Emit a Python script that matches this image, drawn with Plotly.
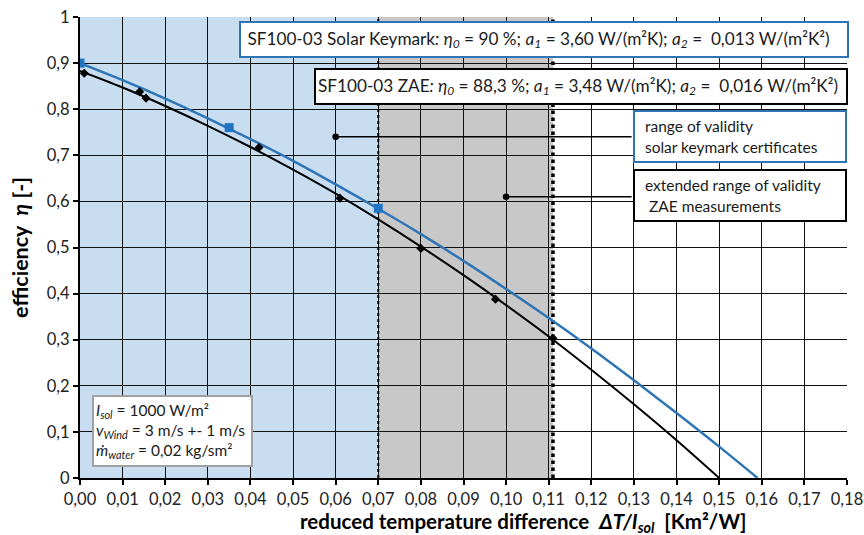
import plotly.graph_objects as go

# Axis ticks (decimal comma labels)
x_ticks = [0.00, 0.01, 0.02, 0.03, 0.04, 0.05, 0.06, 0.07, 0.08, 0.09,
           0.10, 0.11, 0.12, 0.13, 0.14, 0.15, 0.16, 0.17, 0.18]
x_tick_labels = ["0,00", "0,01", "0,02", "0,03", "0,04", "0,05", "0,06", "0,07", "0,08", "0,09",
                 "0,10", "0,11", "0,12", "0,13", "0,14", "0,15", "0,16", "0,17", "0,18"]
y_ticks = [0.0, 0.1, 0.2, 0.3, 0.4, 0.5, 0.6, 0.7, 0.8, 0.9, 1.0]
y_tick_labels = ["0", "0,1", "0,2", "0,3", "0,4", "0,5", "0,6", "0,7", "0,8", "0,9", "1"]

# Efficiency curve, Solar Keymark certificate
keymark_x = [0.00, 0.01, 0.02, 0.03, 0.04, 0.05, 0.06, 0.07, 0.08, 0.09,
             0.10, 0.11, 0.12, 0.13, 0.14, 0.15, 0.159]
keymark_eta = [0.900, 0.863, 0.823, 0.780, 0.735, 0.688, 0.637, 0.584, 0.529, 0.471,
               0.410, 0.347, 0.281, 0.212, 0.141, 0.068, 0.000]

# Efficiency curve, ZAE measurement fit
zae_x = [0.00, 0.01, 0.02, 0.03, 0.04, 0.05, 0.06, 0.07, 0.08, 0.09,
         0.10, 0.11, 0.12, 0.13, 0.14, 0.15]
zae_eta = [0.883, 0.847, 0.807, 0.764, 0.718, 0.669, 0.617, 0.561, 0.502, 0.440,
           0.375, 0.307, 0.235, 0.160, 0.082, 0.000]

# Certificate points and measured points
keymark_pts_x = [0.000, 0.035, 0.070]
keymark_pts_eta = [0.900, 0.760, 0.585]
meas_x = [0.001, 0.014, 0.0155, 0.042, 0.061, 0.080, 0.0975, 0.111]
meas_eta = [0.878, 0.838, 0.824, 0.717, 0.607, 0.498, 0.388, 0.303]

# Validity limits
limit_keymark = 0.07
limit_zae = 0.111

BLUE = "#2e75b6"
FONT = "Lato"
NB = "\u00a0"

fig = go.Figure()

fig.add_trace(go.Scatter(x=zae_x, y=zae_eta, mode="lines", line=dict(color="black", width=2, shape="spline"),
                         hoverinfo="skip", showlegend=False))
fig.add_trace(go.Scatter(x=keymark_x, y=keymark_eta, mode="lines", line=dict(color=BLUE, width=2.5, shape="spline"),
                         hoverinfo="skip", showlegend=False))
fig.add_trace(go.Scatter(x=meas_x, y=meas_eta, mode="markers",
                         marker=dict(symbol="diamond", size=7, color="black"), showlegend=False))
fig.add_trace(go.Scatter(x=keymark_pts_x, y=keymark_pts_eta, mode="markers",
                         marker=dict(symbol="square", size=9, color="#1f74c4"), showlegend=False))

# Shaded validity ranges
fig.add_shape(type="rect", xref="x", yref="y", x0=0, x1=limit_keymark, y0=0, y1=1,
              fillcolor="#c9ddf0", line_width=0, layer="below")
fig.add_shape(type="rect", xref="x", yref="y", x0=limit_keymark, x1=limit_zae, y0=0, y1=1,
              fillcolor="#c8c8c8", line_width=0, layer="below")
fig.add_shape(type="line", xref="x", yref="y", x0=limit_keymark, x1=limit_keymark, y0=0, y1=1,
              line=dict(color="black", width=2, dash="dot"), layer="between")
fig.add_shape(type="line", xref="x", yref="y", x0=limit_zae, x1=limit_zae, y0=0, y1=1,
              line=dict(color="black", width=3.5, dash="dot"), layer="between")


def box(text, x, y, width, height, border, size):
    fig.add_annotation(xref="x", yref="y", x=x, y=y, xanchor="left", yanchor="top",
                       text=text, showarrow=False, align="left",
                       font=dict(family=FONT, size=size, color="#1a1a1a"),
                       width=width, height=height, bgcolor="white",
                       bordercolor=border, borderwidth=2, borderpad=2)


box(NB + "SF100-03 Solar Keymark<i>: η<sub>0</sub></i> = 90 %; <i>a<sub>1</sub></i> = 3,60 W/(m²K); "
    "<i>a<sub>2</sub></i> =" + NB + " 0,013 W/(m²K²)", 0.0372, 0.991, 602, 29, BLUE, 17.2)
box("SF100-03 ZAE<i>: η<sub>0</sub></i> = 88,3 %; <i>a<sub>1</sub></i> = 3,48 W/(m²K); "
    "<i>a<sub>2</sub></i> =" + NB + " 0,016 W/(m²K²)", 0.0549, 0.889, 526, 29, "black", 17.2)
box(NB * 2 + "range of validity<br>" + NB * 2 + "solar keymark certificates",
    0.1298, 0.798, 206, 45, BLUE, 15.5)
box(NB * 2 + "extended range of validity<br>" + NB * 3 + "ZAE measurements",
    0.1298, 0.670, 206, 45, "black", 15.5)
box("<i>I<sub>sol</sub></i> = 1000 W/m²<br><i>v<sub>Wind</sub></i> = 3 m/s +- 1 m/s<br>"
    "<i>ṁ<sub>water</sub></i> = 0,02 kg/sm²", 0.00275, 0.180, 153, 64, "#a0a0a0", 15.5)

# Callout lines from the boxes to the shaded ranges
for (px, py) in [(0.06, 0.74), (0.10, 0.61)]:
    fig.add_annotation(xref="x", yref="y", x=px, y=py, axref="x", ayref="y", ax=0.1298, ay=py,
                       text="", showarrow=True, arrowhead=6, arrowsize=1.1, arrowwidth=1.5,
                       arrowcolor="black", startstandoff=0)

# Axis titles
fig.add_annotation(xref="paper", yref="paper", x=0.578, y=-0.0955, xanchor="center", yanchor="middle",
                   text="<b>reduced temperature difference" + NB * 2 + "<i>ΔT/I<sub>sol</sub></i>"
                        + NB * 2 + "[Km²/W]</b>",
                   showarrow=False, font=dict(family=FONT, size=20.5, color="black"))

fig.update_layout(
    width=864, height=535,
    margin=dict(l=80, r=17, t=17, b=57),
    plot_bgcolor="white", paper_bgcolor="white",
    font=dict(family=FONT, size=16.5, color="#222222"),
    xaxis=dict(range=[0, 0.18], tickvals=x_ticks, ticktext=x_tick_labels, automargin=False,
               showgrid=True, gridcolor="#111111", gridwidth=1.2, zeroline=False,
               showline=True, linecolor="black", linewidth=2,
               ticks="outside", ticklen=5, tickwidth=1.5, tickcolor="black",
               tickfont=dict(family=FONT, size=16.5, color="#222222")),
    yaxis=dict(range=[0, 1], tickvals=y_ticks, ticktext=y_tick_labels, automargin=False,
               showgrid=True, gridcolor="#111111", gridwidth=1.2, zeroline=False,
               showline=True, linecolor="black", linewidth=2,
               ticks="outside", ticklen=5, tickwidth=1.5, tickcolor="black",
               tickfont=dict(family=FONT, size=16.5, color="#222222"),
               title=dict(text="<b>efficiency" + NB * 2 + "<i>η</i> [-]</b>", standoff=12,
                          font=dict(family=FONT, size=21.5, color="black"))),
)

fig.write_html("out.html")
